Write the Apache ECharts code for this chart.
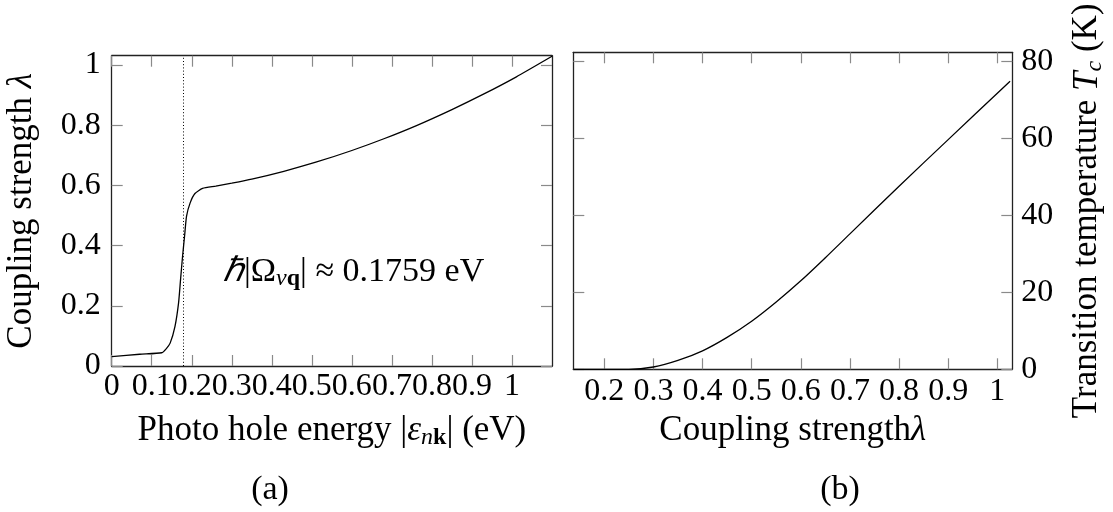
<!DOCTYPE html>
<html><head><meta charset="utf-8">
<script src="https://cdn.jsdelivr.net/npm/echarts@6/dist/echarts.min.js"></script>
<style>html,body{margin:0;padding:0;background:#fff}#c{width:1113px;height:512px}</style>
</head><body><div id="c"></div>
<script>
// ---- data (a): coupling strength vs photo-hole energy ----
const energyX  = [0, 0.07, 0.125, 0.136, 0.146, 0.158, 0.167, 0.172, 0.177, 0.182, 0.187, 0.196, 0.208, 0.227, 0.26, 0.30, 0.35, 0.43, 0.51, 0.60, 0.68, 0.76, 0.85, 0.93, 1.01, 1.1];
const lambdaY  = [0.031, 0.039, 0.044, 0.057, 0.076, 0.131, 0.209, 0.287, 0.364, 0.431, 0.498, 0.542, 0.573, 0.590, 0.5975, 0.6075, 0.621, 0.647, 0.677, 0.716, 0.755, 0.798, 0.852, 0.904, 0.960, 1.029];
const phononEnergy = 0.1759;
// ---- data (b): Tc vs coupling strength ----
const couplingX = [0.137, 0.2, 0.25, 0.3, 0.35, 0.4, 0.45, 0.5, 0.55, 0.6, 0.65, 0.7, 0.8, 0.9, 1.026];
const tcY       = [0, 0, 0, 0.6, 2.3, 4.8, 8.3, 12.5, 17.5, 23.0, 29.0, 35.2, 47.6, 59.7, 74.9];
// ---- ticks ----
const aXTicks  = [0, 0.1, 0.2, 0.3, 0.4, 0.5, 0.6, 0.7, 0.8, 0.9, 1];
const aXLabels = ['0', '0.1', '0.2', '0.3', '0.4', '0.5', '0.6', '0.7', '0.8', '0.9', '1'];
const aYTicks  = [0, 0.2, 0.4, 0.6, 0.8, 1];
const aYLabels = ['0', '0.2', '0.4', '0.6', '0.8', '1'];
const bXTicks  = [0.2, 0.3, 0.4, 0.5, 0.6, 0.7, 0.8, 0.9, 1];
const bXLabels = ['0.2', '0.3', '0.4', '0.5', '0.6', '0.7', '0.8', '0.9', '1'];
const bYTicks  = [0, 20, 40, 60, 80];
const bYLabels = ['0', '20', '40', '60', '80'];

const FONT = "'Liberation Serif','Times New Roman',serif";
const LBL = 32, TTL = 35, SUB = 24;

function fmt(ticks, labels) {
  return v => { let b = 0; ticks.forEach((t, i) => { if (Math.abs(t - v) < Math.abs(ticks[b] - v)) b = i; }); return labels[b]; };
}
const richStyles = {
  it:   { fontFamily: FONT, fontSize: TTL, fontStyle: 'italic', color: '#000' },
  sub:  { fontFamily: FONT, fontSize: SUB, fontStyle: 'italic', color: '#000', padding: [14, 0, 0, 0] },
  subb: { fontFamily: FONT, fontSize: SUB, fontWeight: 'bold', color: '#000', padding: [14, 0, 0, 0] }
};
function axis(o) {
  return {
    type: 'value', gridIndex: o.grid, position: o.pos, min: o.min, max: o.max,
    splitLine: { show: false },
    axisLine: { show: true, onZero: false, lineStyle: { color: '#222', width: 1.3 } },
    axisTick: { show: true, inside: true, length: 11, customValues: o.ticks, lineStyle: { color: '#8a8a8a', width: 1.2 } },
    axisLabel: o.labels ? {
      show: true, customValues: o.ticks, formatter: fmt(o.ticks, o.labels), margin: o.margin,
      fontFamily: FONT, fontSize: LBL, color: '#000'
    } : { show: false },
    name: o.name || '', nameLocation: 'middle', nameGap: o.nameGap || 0, nameRotate: o.nameRotate,
    nameTextStyle: { fontFamily: FONT, fontSize: TTL, color: '#000', rich: richStyles }
  };
}

const chart = echarts.init(document.getElementById('c'), null, { renderer: 'canvas' });
chart.setOption({
  animation: false,
  backgroundColor: '#fff',
  grid: [
    { left: 111.7, top: 55.7, right: 561, bottom: 146, containLabel: false },
    { left: 573.3, top: 52.3, right: 100.7, bottom: 142.7, containLabel: false }
  ],
  xAxis: [
    axis({ grid: 0, pos: 'bottom', min: 0, max: 1.1, ticks: aXTicks, labels: aXLabels, margin: 5,
           name: 'Photo hole energy |{it|ε}{sub|n}{subb|k}| (eV)', nameGap: 46 }),
    axis({ grid: 0, pos: 'top', min: 0, max: 1.1, ticks: aXTicks }),
    axis({ grid: 1, pos: 'bottom', min: 0.137, max: 1.0305, ticks: bXTicks, labels: bXLabels, margin: 6,
           name: 'Coupling strength{it|λ}', nameGap: 44 }),
    axis({ grid: 1, pos: 'top', min: 0.137, max: 1.0305, ticks: bXTicks })
  ],
  yAxis: [
    axis({ grid: 0, pos: 'left', min: 0, max: 1.031, ticks: aYTicks, labels: aYLabels, margin: 11,
           name: 'Coupling strength {it|λ}', nameGap: 72, nameRotate: 90 }),
    axis({ grid: 0, pos: 'right', min: 0, max: 1.031, ticks: aYTicks }),
    axis({ grid: 1, pos: 'left', min: 0, max: 82.4, ticks: bYTicks }),
    axis({ grid: 1, pos: 'right', min: 0, max: 82.4, ticks: bYTicks, labels: bYLabels, margin: 9,
           name: 'Transition temperature {it|T}{sub|c} (K)', nameGap: 56, nameRotate: 90 })
  ],
  series: [
    {
      type: 'line', xAxisIndex: 0, yAxisIndex: 0, showSymbol: false, symbol: 'none',
      smooth: 0.2,
      lineStyle: { color: '#000', width: 1.3 }, silent: true,
      data: energyX.map((x, i) => [x, lambdaY[i]]),
      markLine: {
        silent: true, symbol: 'none', label: { show: false }, animation: false,
        lineStyle: { color: '#000', width: 1, type: [1, 2.2] },
        data: [{ xAxis: phononEnergy }]
      }
    },
    {
      type: 'line', xAxisIndex: 2, yAxisIndex: 3, showSymbol: false, symbol: 'none',
      smooth: 0.3,
      lineStyle: { color: '#000', width: 1.3 }, silent: true,
      data: couplingX.map((x, i) => [x, tcY[i]])
    }
  ],
  graphic: [
    { type: 'text', left: 223, top: 255,
      style: { text: '{it|ℏ}|Ω{sub|ν}{subb|q}| ≈ 0.1759 eV', font: `34px ${FONT}`, fill: '#000',
               rich: { it: { fontFamily: FONT, fontSize: 34, fontStyle: 'italic', fill: '#000' },
                       sub: { fontFamily: FONT, fontSize: SUB, fontStyle: 'italic', fill: '#000', padding: [14, 0, 0, 0] },
                       subb: { fontFamily: FONT, fontSize: SUB, fontWeight: 'bold', fill: '#000', padding: [14, 0, 0, 0] } } } },
    { type: 'text', x: 270, y: 490, style: { text: '(a)', font: `34px ${FONT}`, fill: '#000', align: 'center', verticalAlign: 'middle' } },
    { type: 'text', x: 840, y: 490, style: { text: '(b)', font: `34px ${FONT}`, fill: '#000', align: 'center', verticalAlign: 'middle' } }
  ]
});
</script>
</body></html>
